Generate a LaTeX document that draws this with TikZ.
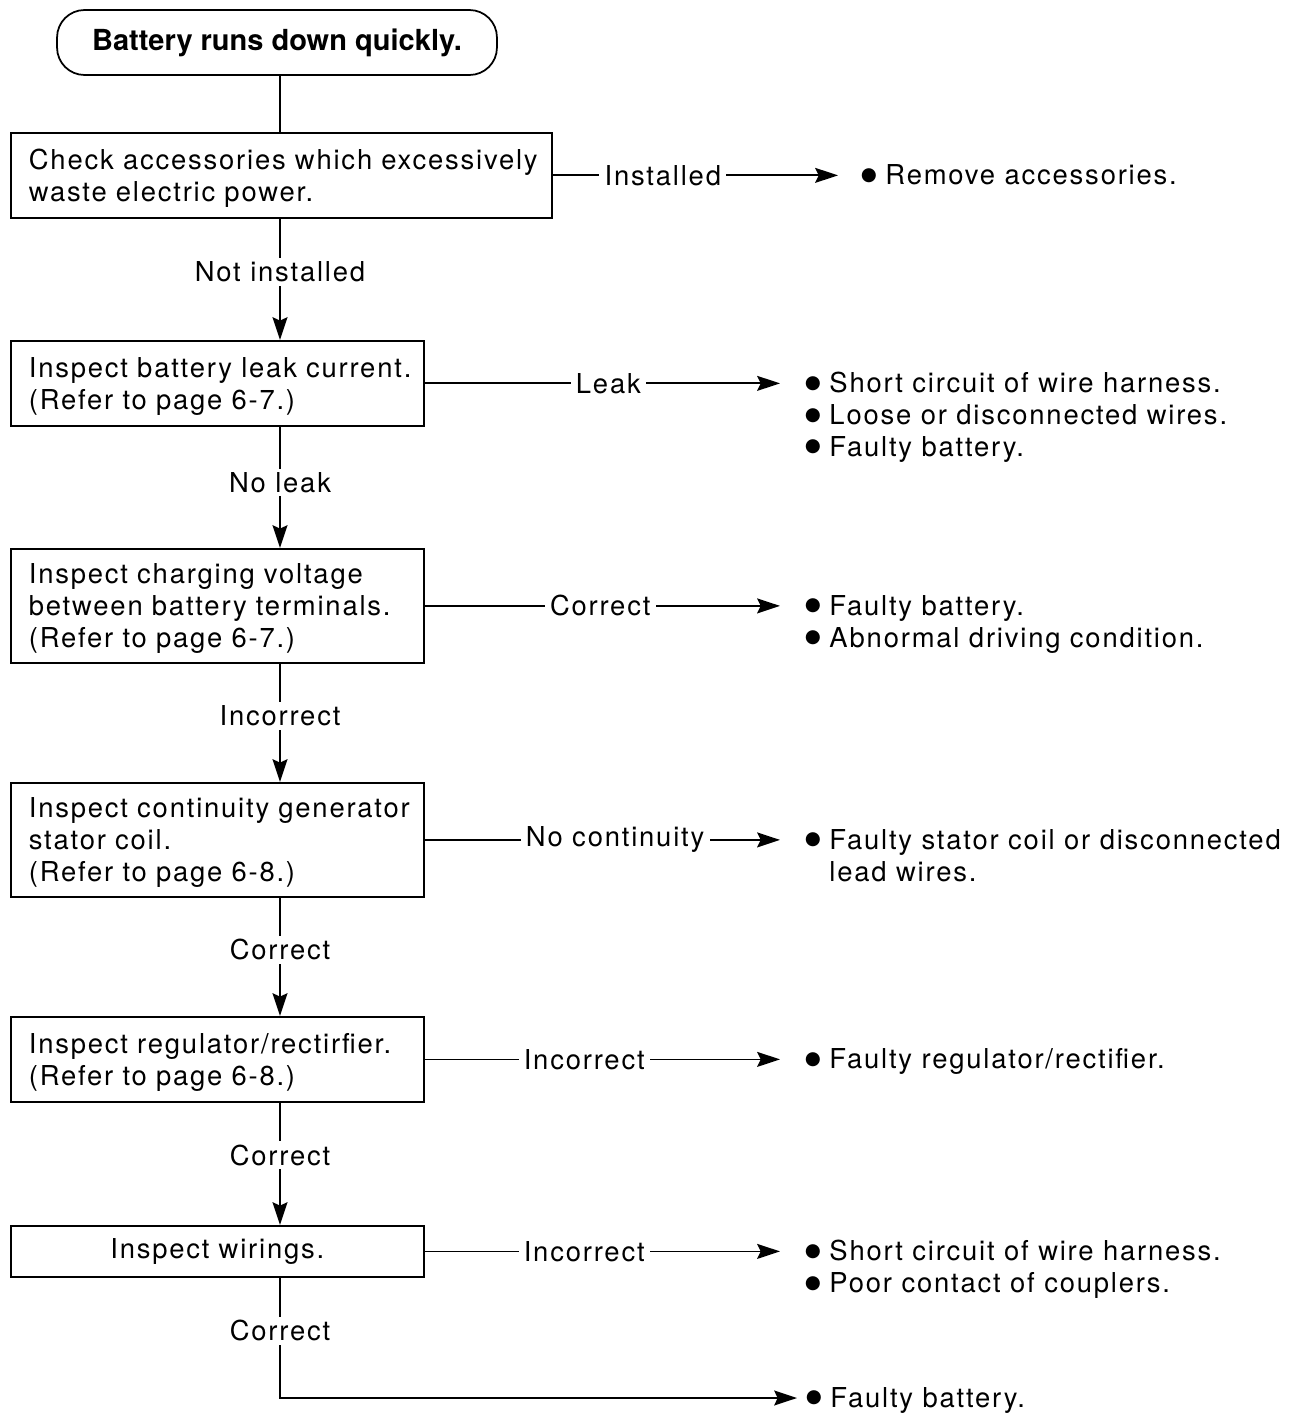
\documentclass[tikz,border=0pt]{standalone}
\usepackage{fontspec}
\setmainfont{TeX Gyre Heros}[LetterSpace=6.6]
\newfontfamily\ttlfont{TeX Gyre Heros}
\newfontfamily\symfont{DejaVu Sans}
\usetikzlibrary{arrows.meta, calc}

% lines of a box / of an outcome list
\newcommand{\tb}[1]{\begin{tabular}{@{}l@{}}\rule{0pt}{16.6pt}#1\end{tabular}}
\newcommand{\lst}[1]{\begin{tabular}[t]{@{}l@{}}#1\end{tabular}}
\newcommand{\bul}{\makebox[14pt][l]{\raisebox{2.6pt}[0pt][0pt]{\symfont\fontsize{10.5}{10}\selectfont ●}}}

\begin{document}
\begin{tikzpicture}[x=0.02cm, y=-0.02cm, line width=1pt,
  every node/.style={font=\fontsize{15.6}{18.1}\selectfont},
  startbox/.style={draw, rounded corners=0.55cm, minimum width=8.8cm, minimum height=1.3cm},
  chkbox/.style={draw, anchor=north west, align=left, inner xsep=0.36cm, text width=7.54cm, minimum height=#1},
  lbl/.style={fill=white, inner xsep=3pt, inner ysep=2pt},
  outlist/.style={anchor=base west, inner sep=0pt},
  arr/.style={-{Stealth[length=13pt, width=8.5pt, inset=2pt]}}]
\useasboundingbox (0,0) rectangle (1302,1413);

% Draw boxes
\node[startbox] (start) at (277,42.5) {\ttlfont\fontsize{16.5}{18}\selectfont\bfseries Battery runs down quickly.};
\node[chkbox=1.7cm, text width=10.1cm] (acc) at (10,132) {\tb{Check accessories which excessively\\waste electric power.}};
\node[chkbox=1.7cm] (leak) at (10,340) {\tb{Inspect battery leak current.\\(Refer to page 6-7.)}};
\node[chkbox=2.22cm] (volt) at (10,548) {\tb{Inspect charging voltage\\between battery terminals.\\(Refer to page 6-7.)}};
\node[chkbox=2.22cm] (coil) at (10,782) {\tb{Inspect continuity generator\\stator coil.\\(Refer to page 6-8.)}};
\node[chkbox=1.7cm] (reg) at (10,1016) {\tb{Inspect regulator/rectirfier.\\(Refer to page 6-8.)}};
\node[chkbox=1.02cm, align=center] (wir) at (10,1225) {Inspect wirings.};

% Main line
\coordinate (spine) at (280,0);
\draw (acc.north -| spine) -- (start.south -| spine);
\draw[arr] (acc.south -| spine) -- node[lbl, pos=0.44] {Not installed} (leak.north -| spine);
\draw[arr] (leak.south -| spine) -- node[lbl, pos=0.46] {No leak} (volt.north -| spine);
\draw[arr] (volt.south -| spine) -- node[lbl, pos=0.44] {Incorrect} (coil.north -| spine);
\draw[arr] (coil.south -| spine) -- node[lbl, pos=0.44] {Correct} (reg.north -| spine);
\draw[arr] (reg.south -| spine) -- node[lbl, pos=0.43] {Correct} (wir.north -| spine);

% Arrow tips on the right
\coordinate (t1) at (838,0);
\coordinate (t2) at (780,0);
\coordinate (t7) at (797,1398);

% Branches and outcomes
\draw[arr] (acc.east) -- node[lbl, pos=0.386] {Installed} (acc.east -| t1);
\node[outlist] (o1) at ($(acc.east -| t1)+(22,9.5)$) {\lst{\bul Remove accessories.}};

\draw[arr] (leak.east) -- node[lbl, pos=0.517] {Leak} (leak.east -| t2);
\node[outlist] (o2) at ($(leak.east -| t2)+(24,9.5)$) {\lst{\bul Short circuit of wire harness.\\\bul Loose or disconnected wires.\\\bul Faulty battery.}};

\draw[arr] (volt.east) -- node[lbl, pos=0.494] {Correct} (volt.east -| t2);
\node[outlist] (o3) at ($(volt.east -| t2)+(24,9.5)$) {\lst{\bul Faulty battery.\\\bul Abnormal driving condition.}};

\draw[arr] (coil.east) -- node[lbl, pos=0.536] {No continuity} (coil.east -| t2);
\node[outlist] (o4) at ($(coil.east -| t2)+(24,9.5)$) {\lst{\bul Faulty stator coil or disconnected\\\hphantom{\bul}lead wires.}};

\draw[arr] (reg.east) -- node[lbl, pos=0.449] {Incorrect} (reg.east -| t2);
\node[outlist] (o5) at ($(reg.east -| t2)+(24,9.5)$) {\lst{\bul Faulty regulator/rectifier.}};

\draw[arr] (wir.east) -- node[lbl, pos=0.449] {Incorrect} (wir.east -| t2);
\node[outlist] (o6) at ($(wir.east -| t2)+(24,9.5)$) {\lst{\bul Short circuit of wire harness.\\\bul Poor contact of couplers.}};

% Last branch
\draw[arr] (wir.south -| spine) -- node[lbl, pos=0.44] {Correct} (spine |- t7) -- (t7);
\node[outlist] (o7) at ($(t7)+(8,9.5)$) {\lst{\bul Faulty battery.}};

\end{tikzpicture}
\end{document}
